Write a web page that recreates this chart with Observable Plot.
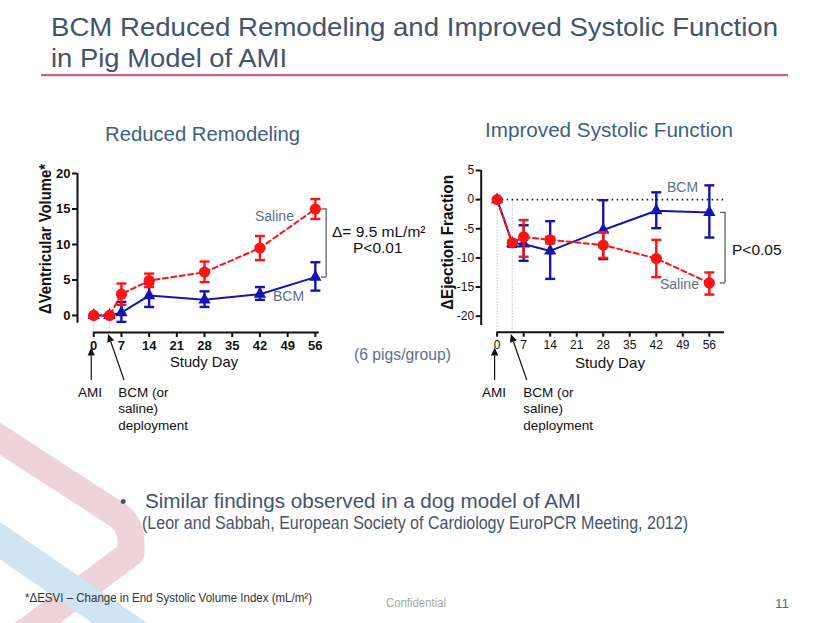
<!DOCTYPE html>
<html><head><meta charset="utf-8">
<script src="https://cdn.jsdelivr.net/npm/d3@7"></script>
<script src="https://cdn.jsdelivr.net/npm/@observablehq/plot@0.6"></script>
<style>
html,body{margin:0;padding:0;background:#fff;}
#page{position:relative;width:830px;height:623px;overflow:hidden;font-family:"Liberation Sans",Arial,sans-serif;}
.layer{position:absolute;left:0;top:0;}
#left{position:absolute;left:20px;top:150px;}
#right{position:absolute;left:420px;top:150px;}
#overlay text{font-family:"Liberation Sans",Arial,sans-serif;}
</style></head><body>
<div id="page">
<svg id="deco" class="layer" width="830" height="623">
  <path d="M -30 419 L 116 514 Q 131 524 131 542 L 131 553 L 20 636" stroke="#eed3da" stroke-width="27" fill="none" stroke-linejoin="round"/>
  <path d="M -20 527 L 152 645" stroke="#cfe5f3" stroke-width="31" fill="none"/>
</svg>
<div id="left"></div>
<div id="right"></div>
<svg id="overlay" class="layer" width="830" height="623">
  <text x="51" y="35.7" font-size="26.5" fill="#44546a" textLength="727" lengthAdjust="spacingAndGlyphs">BCM Reduced Remodeling and Improved Systolic Function</text>
  <text x="51" y="66.7" font-size="26.5" fill="#44546a" textLength="236" lengthAdjust="spacingAndGlyphs">in Pig Model of AMI</text>
  <rect x="41" y="74" width="747" height="2.2" fill="#c9627d"/>
  <text x="105" y="141" font-size="20" fill="#40607f" textLength="195" lengthAdjust="spacingAndGlyphs">Reduced Remodeling</text>
  <text x="485" y="137" font-size="20" fill="#40607f" textLength="248" lengthAdjust="spacingAndGlyphs">Improved Systolic Function</text>

  <text transform="translate(50.5,239) rotate(-90)" text-anchor="middle" font-size="16" font-weight="bold" fill="#111" textLength="150" lengthAdjust="spacingAndGlyphs">ΔVentricular Volume*</text>
  <text transform="translate(453,242.5) rotate(-90)" text-anchor="middle" font-size="16" font-weight="bold" fill="#111" textLength="135" lengthAdjust="spacingAndGlyphs">ΔEjection Fraction</text>
  <text x="204" y="367.3" text-anchor="middle" font-size="15" fill="#111" textLength="68" lengthAdjust="spacingAndGlyphs">Study Day</text>
  <text x="610" y="368.3" text-anchor="middle" font-size="15" fill="#111" textLength="70" lengthAdjust="spacingAndGlyphs">Study Day</text>

  <text x="255" y="221" font-size="14" fill="#5c7089">Saline</text>
  <text x="273" y="301" font-size="14" fill="#5c7089">BCM</text>
  <text x="332" y="236.7" font-size="15.5" fill="#111">Δ= 9.5 mL/m²</text>
  <text x="353" y="253.3" font-size="15.5" fill="#111">P&lt;0.01</text>
  <text x="667" y="192.3" font-size="14" fill="#5c7089">BCM</text>
  <text x="660" y="289.3" font-size="14" fill="#5c7089">Saline</text>
  <text x="732" y="255" font-size="15.5" fill="#111">P&lt;0.05</text>
  <text x="354" y="360" font-size="16" fill="#5c7089" textLength="97" lengthAdjust="spacingAndGlyphs">(6 pigs/group)</text>

  <text x="78" y="396.7" font-size="13.5" fill="#111">AMI</text>
  <text x="118.3" y="396.7" font-size="13.5" fill="#111">BCM (or</text>
  <text x="118.3" y="413.3" font-size="13.5" fill="#111">saline)</text>
  <text x="118.3" y="430" font-size="13.5" fill="#111">deployment</text>
  <text x="482" y="396.7" font-size="13.5" fill="#111">AMI</text>
  <text x="523.3" y="396.7" font-size="13.5" fill="#111">BCM (or</text>
  <text x="523.3" y="413.3" font-size="13.5" fill="#111">saline)</text>
  <text x="523.3" y="430" font-size="13.5" fill="#111">deployment</text>

  <text x="120" y="508" font-size="18" fill="#44546a">•</text>
  <text x="145" y="508" font-size="20.5" fill="#44546a" textLength="436" lengthAdjust="spacingAndGlyphs">Similar findings observed in a dog model of AMI</text>
  <text x="142" y="529.3" font-size="17.5" fill="#44546a" textLength="546" lengthAdjust="spacingAndGlyphs">(Leor and Sabbah, European Society of Cardiology EuroPCR Meeting, 2012)</text>
  <text x="25" y="602.3" font-size="12.5" fill="#333" textLength="287" lengthAdjust="spacingAndGlyphs">*ΔESVI – Change in End Systolic Volume Index (mL/m²)</text>
  <text x="386" y="606.7" font-size="12.5" fill="#a6a6a6" textLength="60" lengthAdjust="spacingAndGlyphs">Confidential</text>
  <text x="775" y="608.3" font-size="13.5" fill="#5a6878">11</text>
  <g id="arrows"></g>
</svg>
</div>
<script>
// ---- data ----
const days = [0, 4, 7, 14, 28, 42, 56];
const xTicks = [0, 7, 14, 21, 28, 35, 42, 49, 56];
const remYTicks = [0, 5, 10, 15, 20];
const efYTicks = [5, 0, -5, -10, -15, -20];

// Delta ventricular volume (mL/m2)
const remSaline   = [0, 0, 3.0, 4.9, 6.1, 9.5, 15.0];
const remSalineLo = [0, 0, 1.5, 4.0, 4.7, 7.8, 13.6];
const remSalineHi = [0, 0, 4.5, 5.9, 7.6, 11.2, 16.4];
const remBcm      = [0, 0, 0.4, 2.8, 2.2, 3.0, 5.4];
const remBcmLo    = [0, -0.2, -0.9, 1.2, 1.2, 2.2, 3.5];
const remBcmHi    = [0, 0.1, 1.9, 4.4, 3.4, 4.0, 7.5];

// Delta ejection fraction
const efSaline   = [0, -7.4, -6.4, -6.9, -7.8, -10.1, -14.3];
const efSalineLo = [0, -7.4, -9.8, -7.5, -10.0, -13.3, -16.3];
const efSalineHi = [0, -7.4, -3.5, -6.4, -5.6, -6.9, -12.5];
const efBcm      = [0, -7.5, -7.6, -8.8, -5.2, -1.9, -2.2];
const efBcmLo    = [0, -8.1, -10.5, -13.6, -10.2, -4.9, -6.5];
const efBcmHi    = [0, -7.0, -4.4, -3.7, -0.1, 1.25, 2.45];

const eventDays = [0, 4]; // AMI, deployment

const RED = "#ff1212", BLUE = "#1414b0";
const cap = hw => ({draw(ctx) { ctx.moveTo(-hw, 0); ctx.lineTo(hw, 0); }});

function makeChart(o) {
  const rows = (m, lo, hi) => days.map((d, i) => ({day: d, mean: m[i], lo: lo[i], hi: hi[i]}));
  const sal = rows(o.sal, o.salLo, o.salHi);
  const bcm = rows(o.bcm, o.bcmLo, o.bcmHi);
  const last = days.length - 1;
  const yMin = o.yDomain[0];
  const marks = [
    Plot.ruleX(eventDays, {x: d => d, y1: 0, y2: yMin, stroke: "#c4c4c4", strokeWidth: 1, strokeDasharray: "1.5,1.5"})
  ];
  if (o.zeroLine) marks.push(Plot.ruleY([0], {x1: xTicks[0], x2: o.xAxisEnd, stroke: "#222", strokeWidth: 1.6, strokeDasharray: "1.6,3.4"}));
  marks.push(
    Plot.ruleY([yMin], {x1: xTicks[0], x2: o.xAxisEnd, stroke: "#111", strokeWidth: 2}),
    Plot.ruleX([o.xDomain[0]], {y1: o.yAxisBottom, y2: d3.max(o.yTicks), stroke: "#111", strokeWidth: 2}),
    Plot.axisX({ticks: xTicks, tickSize: 5, tickPadding: 3, strokeWidth: 2, stroke: "#111", fill: "#111", tickFormat: d => String(d), label: null}),
    Plot.axisY({ticks: o.yTicks, tickSize: 5, tickPadding: 2, strokeWidth: 2, stroke: "#111", fill: "#111", tickFormat: d => String(d), label: null}),
    Plot.ruleX(bcm, {x: "day", y1: "lo", y2: "hi", stroke: BLUE, strokeWidth: 2.4}),
    Plot.dot(bcm, {x: "day", y: "lo", symbol: cap(5), r: 5, stroke: BLUE, strokeWidth: 2.4, fill: "none"}),
    Plot.dot(bcm, {x: "day", y: "hi", symbol: cap(5), r: 5, stroke: BLUE, strokeWidth: 2.4, fill: "none"}),
    Plot.line(bcm, {x: "day", y: "mean", stroke: BLUE, strokeWidth: 2}),
    Plot.dot(bcm, {x: "day", y: "mean", symbol: "triangle", r: 4.6, fill: BLUE, stroke: "none"}),
    Plot.ruleX(sal, {x: "day", y1: "lo", y2: "hi", stroke: RED, strokeWidth: 2.4}),
    Plot.dot(sal, {x: "day", y: "lo", symbol: cap(5), r: 5, stroke: RED, strokeWidth: 2.4, fill: "none"}),
    Plot.dot(sal, {x: "day", y: "hi", symbol: cap(5), r: 5, stroke: RED, strokeWidth: 2.4, fill: "none"}),
    Plot.line(sal, {x: "day", y: "mean", stroke: RED, strokeWidth: 2, strokeDasharray: "5,3.5"}),
    Plot.dot(sal, {x: "day", y: "mean", r: 5.6, fill: RED, stroke: "none"}),
    Plot.ruleX([last], {x: i => days[i], y1: i => o.bcm[i], y2: i => o.sal[i], dx: o.bracketDx, stroke: "#555", strokeWidth: 1.2}),
    Plot.dot([o.bcm[last], o.sal[last]], {x: () => days[last], y: d => d, symbol: cap(2.6), r: 3, dx: o.bracketDx - 2.6, stroke: "#555", strokeWidth: 1.2, fill: "none"})
  );
  return Plot.plot({
    width: 410, height: 230,
    marginLeft: o.margin[0], marginRight: o.margin[1], marginTop: o.margin[2], marginBottom: o.margin[3],
    x: {domain: o.xDomain},
    y: {domain: o.yDomain},
    style: {fontFamily: "Liberation Sans, Arial, sans-serif", fontSize: o.fontSize, fontWeight: o.fontWeight, color: "#111", background: "transparent", overflow: "visible"},
    marks
  });
}

const left = makeChart({
  sal: remSaline, salLo: remSalineLo, salHi: remSalineHi,
  bcm: remBcm, bcmLo: remBcmLo, bcmHi: remBcmHi,
  xDomain: [-4.1, 57], yDomain: [-2.4, 20], xAxisEnd: 57, yAxisBottom: -1.1,
  yTicks: remYTicks, margin: [57, 111.2, 23, 48], bracketDx: 10.8,
  zeroLine: false, fontSize: "13px", fontWeight: "bold"
});
const right = makeChart({
  sal: efSaline, salLo: efSalineLo, salHi: efSalineHi,
  bcm: efBcm, bcmLo: efBcmLo, bcmHi: efBcmHi,
  xDomain: [-4.2, 60], yDomain: [-22.75, 5], xAxisEnd: 60, yAxisBottom: -21.6,
  yTicks: efYTicks, margin: [60.7, 106, 20, 48.3], bracketDx: 15.7,
  zeroLine: true, fontSize: "12px", fontWeight: "normal"
});
document.getElementById("left").append(left);
document.getElementById("right").append(right);

// annotation arrows, tips tied to the x scales
const arrowsG = d3.select("#arrows");
function arrow(x1, y1, x2, y2) {
  const dx = x2 - x1, dy = y2 - y1, L = Math.hypot(dx, dy);
  const ux = dx / L, uy = dy / L, hl = 8, hw = 3.6;
  const bx = x2 - ux * hl, by = y2 - uy * hl;
  arrowsG.append("line").attr("x1", x1).attr("y1", y1).attr("x2", bx).attr("y2", by)
    .attr("stroke", "#111").attr("stroke-width", 1.2);
  arrowsG.append("path").attr("d", `M${x2},${y2}L${bx - uy * hw},${by + ux * hw}L${bx + uy * hw},${by - ux * hw}Z`).attr("fill", "#111");
}
[[left, 20], [right, 420]].forEach(([chart, off]) => {
  const sx = chart.scale("x");
  const a = off + sx.apply(eventDays[0]) - 2;
  arrow(a, 380, a, 347.5);
  const b = off + sx.apply(eventDays[1]);
  arrow(b + 15, 380, b - 1, 334);
});
</script>
</body></html>
